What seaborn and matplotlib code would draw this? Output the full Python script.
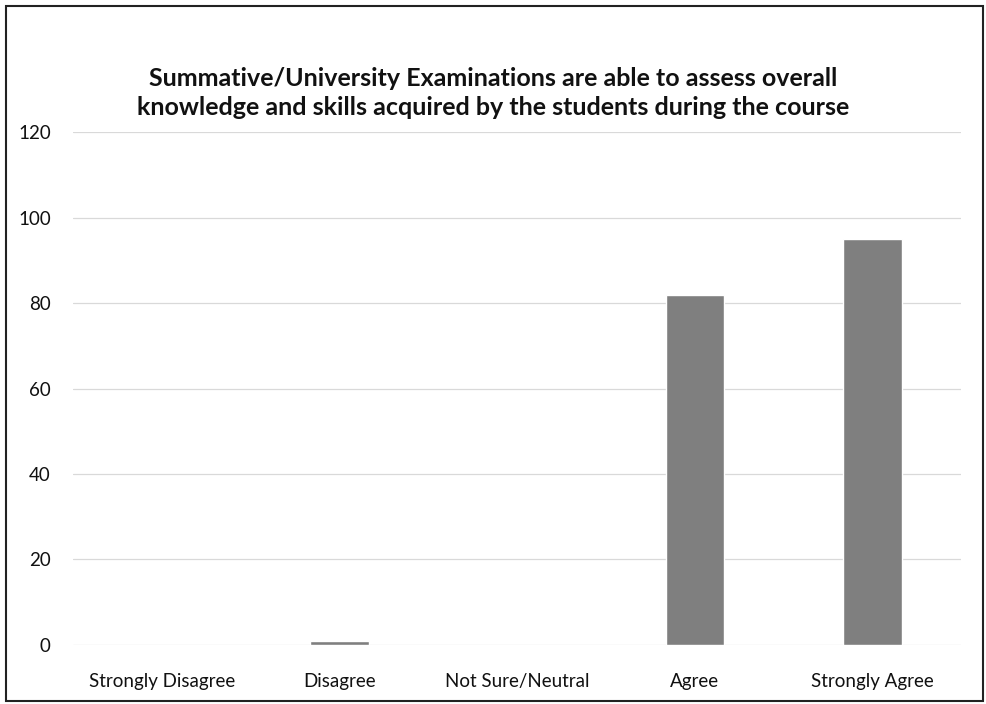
import pandas as pd
import seaborn as sns
import matplotlib.pyplot as plt

# data
categories = ["Strongly Disagree", "Disagree", "Not Sure/Neutral", "Agree", "Strongly Agree"]
responses = [0, 1, 0, 82, 95]

df = pd.DataFrame({"Response": categories, "Count": responses})

sns.set_theme(style="white")
plt.rcParams["font.family"] = ["Lato", "DejaVu Sans"]

fig = plt.figure(figsize=(9.87, 7.04), dpi=100)
ax = fig.add_axes([0.074, 0.084, 0.90, 0.728])

sns.barplot(data=df, x="Response", y="Count", color="#7f7f7f",
            width=0.33, saturation=1, ax=ax, zorder=3)

ax.set_ylim(0, 120)
ax.set_yticks(range(0, 121, 20))
ax.yaxis.grid(True, color="#d9d9d9", linewidth=0.9, zorder=0)
ax.set_axisbelow(True)
for s in ax.spines.values():
    s.set_visible(False)
ax.tick_params(axis="both", length=0, labelsize=13.5, colors="#111111")
ax.tick_params(axis="x", pad=20)
ax.tick_params(axis="y", pad=16)
ax.set_xlabel("")
ax.set_ylabel("")

fig.suptitle("Summative/University Examinations are able to assess overall\n"
             "knowledge and skills acquired by the students during the course",
             y=0.905, fontsize=18, fontweight="bold", color="#111111",
             linespacing=1.3)

# outer frame of the chart box
fig.patches.append(plt.Rectangle((0.006, 0.004), 0.99, 0.988, transform=fig.transFigure,
                                 fill=False, edgecolor="#222222", linewidth=1.5))

fig.savefig("out.png", dpi=100, facecolor="white")
